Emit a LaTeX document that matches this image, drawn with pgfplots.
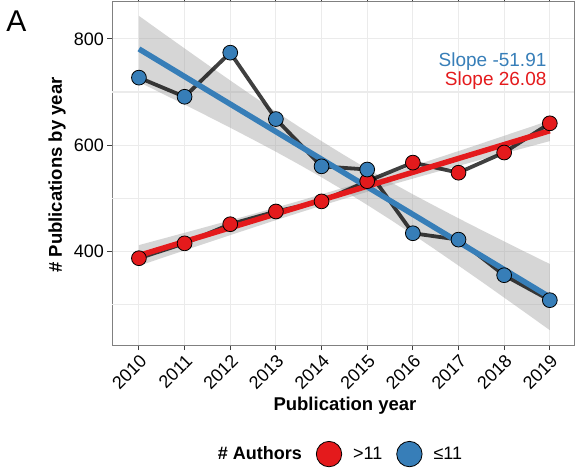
\documentclass[border=0pt]{standalone}
\usepackage{pgfplots}
\pgfplotsset{compat=1.18}
\usepackage{fontspec}
\setmainfont{Liberation Sans}
\definecolor{myred}{HTML}{E41A1C}
\definecolor{myblue}{HTML}{377EB8}
\definecolor{gridc}{HTML}{EBEBEB}
\definecolor{bandc}{HTML}{999999}
\begin{document}
\begin{tikzpicture}
\path[use as bounding box] (0,0) rectangle (575bp,473bp);
\begin{axis}[
  at={(112bp,128bp)}, anchor=south west,
  scale only axis, width=462bp, height=343bp,
  xmin=2009.41, xmax=2019.53, ymin=223.6, ymax=869.4,
  xtick={2010,2011,2012,2013,2014,2015,2016,2017,2018,2019},
  ytick={400,600,800},
  xmajorgrids, ymajorgrids,
  major grid style={draw=gridc, line width=1.1bp},
  axis line style={black!50, line width=1bp},
  tick align=outside, major tick length=5bp,
  major tick style={draw=black!75, line width=1bp},
  /pgf/number format/.cd, 1000 sep={}, assume math mode=true,
  /pgfplots/.cd,
  tick label style={font=\fontsize{18bp}{20bp}\selectfont, black},
  xticklabel style={rotate=45, anchor=north east, inner sep=2bp},
  yticklabel style={inner sep=3bp},
  legend columns=3,
  legend style={at={(0.4935,-0.318)}, anchor=center, draw=none, fill=none,
    font=\fontsize{18bp}{20bp}\selectfont,
    /tikz/every even column/.append style={column sep=12bp}},
  legend cell align=left,
]
% minor horizontal grid lines
\addplot[gridc, line width=1.1bp, forget plot] coordinates {(2009.41,300) (2019.53,300)};
\addplot[gridc, line width=1.1bp, forget plot] coordinates {(2009.41,500) (2019.53,500)};
\addplot[gridc, line width=1.1bp, forget plot] coordinates {(2009.41,700) (2019.53,700)};
% confidence bands
\addplot[draw=none, fill=bandc, fill opacity=0.4, forget plot] coordinates {
(2010,843.3) (2010.5,812.5) (2011,782.0) (2011.5,751.6) (2012,721.7) (2012.5,692.1) (2013,663.1) (2013.5,634.8) (2014,607.4) (2014.5,580.9) (2015,555.4) (2015.5,531.0) (2016,507.3) (2016.5,484.5) (2017,462.1) (2017.5,440.2) (2018,418.6) (2018.5,397.3) (2019,376.1)
(2019,251.5) (2018.5,282.3) (2018,312.8) (2017.5,343.2) (2017,373.1) (2016.5,402.7) (2016,431.7) (2015.5,460.0) (2015,487.4) (2014.5,513.9) (2014,539.4) (2013.5,563.8) (2013,587.5) (2012.5,610.3) (2012,632.7) (2011.5,654.6) (2011,676.2) (2010.5,697.5) (2010,718.7)} --cycle;
\addplot[draw=none, fill=bandc, fill opacity=0.4, forget plot] coordinates {
(2010,411.7) (2010.5,423.3) (2011,434.9) (2011.5,446.6) (2012,458.3) (2012.5,470.2) (2013,482.3) (2013.5,494.6) (2014,507.3) (2014.5,520.1) (2015,533.3) (2015.5,546.8) (2016,560.5) (2016.5,574.6) (2017,588.7) (2017.5,603.0) (2018,617.5) (2018.5,631.9) (2019,646.5)
(2019,607.5) (2018.5,595.9) (2018,584.3) (2017.5,572.6) (2017,560.9) (2016.5,549.0) (2016,536.9) (2015.5,524.6) (2015,511.9) (2014.5,499.1) (2014,485.9) (2013.5,472.4) (2013,458.7) (2012.5,444.6) (2012,430.5) (2011.5,416.2) (2011,401.7) (2010.5,387.3) (2010,372.7)} --cycle;
% connecting lines
\addplot[black, draw opacity=0.75, line width=3.8bp, forget plot] coordinates {
(2010,727) (2011,691) (2012,774) (2013,649) (2014,560) (2015,554) (2016,434) (2017,422) (2018,355) (2019,308)};
\addplot[black, draw opacity=0.75, line width=3.8bp, forget plot] coordinates {
(2010,387) (2011,415) (2012,451) (2013,475) (2014,494) (2015,532) (2016,567) (2017,548) (2018,586) (2019,641)};
% regression lines
\addplot[myblue, line width=5.5bp, forget plot] coordinates {(2010,781.0) (2019,313.8)};
\addplot[myred, line width=5.5bp, forget plot] coordinates {(2010,392.2) (2019,627.0)};
% points
\addplot[only marks, mark=*, mark size=7.4bp, mark options={fill=myred, draw=black, line width=0.8bp}, forget plot] coordinates {
(2010,387) (2011,415) (2012,451) (2013,475) (2014,494) (2015,532) (2016,567) (2017,548) (2018,586) (2019,641)};
\addplot[only marks, mark=*, mark size=7.4bp, mark options={fill=myblue, draw=black, line width=0.8bp}, forget plot] coordinates {
(2010,727) (2011,691) (2012,774) (2013,649) (2014,560) (2015,554) (2016,434) (2017,422) (2018,355) (2019,308)};
% legend
\addlegendimage{empty legend}
\addlegendentry{\textbf{\# Authors}}
\addlegendimage{legend image code/.code={\filldraw[fill=myred, draw=black, line width=0.8bp] (12.7bp,0bp) circle[radius=12.7bp];}}
\addlegendentry{\hspace{9bp}>11}
\addlegendimage{legend image code/.code={\filldraw[fill=myblue, draw=black, line width=0.8bp] (12.7bp,0bp) circle[radius=12.7bp];}}
\addlegendentry{\hspace{9bp}≤11}
% slope labels
\node[anchor=east, text=myblue, font=\fontsize{19bp}{21bp}\selectfont, inner sep=0pt] at (axis cs:2018.93,758) {Slope -51.91};
\node[anchor=east, text=myred, font=\fontsize{19bp}{21bp}\selectfont, inner sep=0pt] at (axis cs:2018.93,721) {Slope 26.08};
\end{axis}
\node[font=\fontsize{30bp}{32bp}\selectfont] at (16.5bp,452bp) {A};
\node[rotate=90, font=\bfseries\fontsize{18.5bp}{20bp}\selectfont] at (57bp,298bp) {\# Publications by year};
\node[anchor=base, font=\bfseries\fontsize{18.5bp}{20bp}\selectfont] at (345bp,62.3bp) {Publication year};
\end{tikzpicture}
\end{document}
